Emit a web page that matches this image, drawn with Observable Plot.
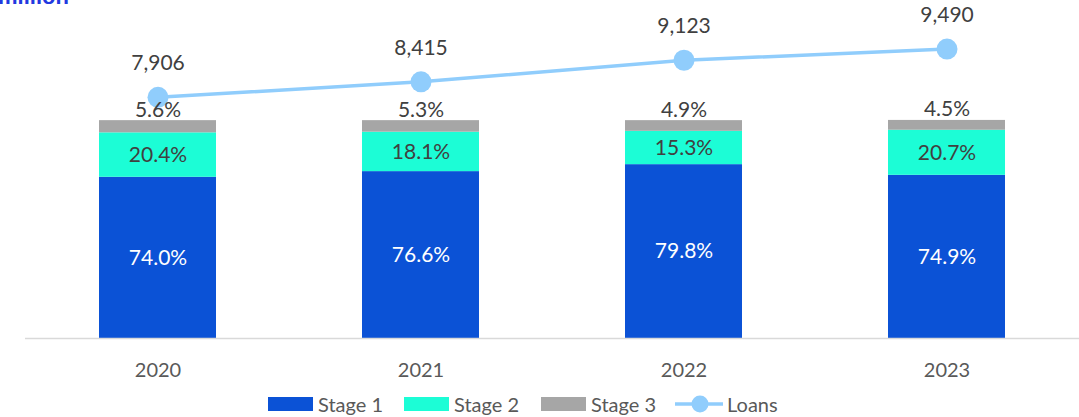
<!DOCTYPE html>
<html>
<head>
<meta charset="utf-8">
<script src="https://cdn.jsdelivr.net/npm/d3@7"></script>
<script src="https://cdn.jsdelivr.net/npm/@observablehq/plot@0.6"></script>
<style>
  html, body { margin: 0; padding: 0; background: #fff; }
  #wrap { position: relative; width: 1079px; height: 417px; overflow: hidden; font-family: Lato, "Open Sans", sans-serif; }
  #unit { position: absolute; top: -14px; left: -2px; font: bold 22px "Liberation Sans", Arial, sans-serif; line-height: 22px; color: #2239e0; white-space: nowrap; }
  #chart { position: absolute; top: 0; left: 0; }
  #legend { position: absolute; top: 392px; left: 0; width: 1079px; height: 24px; font-size: 20px; color: #595959; }
  .sw { position: absolute; top: 5px; width: 45px; height: 14px; }
  .lab { position: absolute; top: 0; line-height: 24px; white-space: nowrap; }
</style>
</head>
<body>
<div id="wrap">
  <div id="unit">million</div>
  <div id="chart"></div>
  <div id="legend"></div>
</div>
<script>
// ---- data ----
const years = ["2020", "2021", "2022", "2023"];
const stages = ["Stage 1", "Stage 2", "Stage 3"];
const stage1 = [74.0, 76.6, 79.8, 74.9];
const stage2 = [20.4, 18.1, 15.3, 20.7];
const stage3 = [5.6, 5.3, 4.9, 4.5];
const loans = [7906, 8415, 9123, 9490];
const colors = ["#0b52d6", "#1cfdd6", "#a6a6a6"];
const lineColor = "#90cdfc";
// axis extents (primary % axis and secondary loans axis)
const pctMax = 140;
const loansMax = 10000;

const rows = [];
years.forEach((yr, i) => {
  rows.push({year: yr, stage: stages[0], value: stage1[i]});
  rows.push({year: yr, stage: stages[1], value: stage2[i]});
  rows.push({year: yr, stage: stages[2], value: stage3[i]});
});
const loanRows = years.map((yr, i) => ({year: yr, loans: loans[i], y: loans[i] / loansMax * pctMax}));

const fmtPct = v => v.toFixed(1) + "%";
const fmtNum = d3.format(",");
const font = "Lato, 'Open Sans', sans-serif";
const fs = 21;

const plot = Plot.plot({
  width: 1079,
  height: 390,
  marginLeft: 25,
  marginRight: 0,
  marginTop: 0,
  marginBottom: 52,
  style: {fontFamily: font, background: "transparent"},
  x: {type: "band", domain: years, padding: 0, label: null},
  y: {domain: [0, pctMax], range: [338, 33], axis: null},
  color: {domain: stages, range: colors},
  marks: [
    Plot.barY(rows, {x: "year", y: "value", fill: "stage", z: "stage", insetLeft: 73, insetRight: 73}),
    Plot.ruleY([0], {stroke: "#d9d9d9", strokeWidth: 1.5}),
    Plot.axisX({tickSize: 0, tickPadding: 24, fontSize: 20, fill: "#595959", label: null}),
    Plot.text(rows, Plot.stackY({x: "year", y: "value", z: "stage",
      text: d => d.stage === stages[0] ? fmtPct(d.value) : "", fill: "white", fontSize: fs})),
    Plot.text(rows, Plot.stackY({x: "year", y: "value", z: "stage",
      text: d => d.stage === stages[1] ? fmtPct(d.value) : "", fill: "#404040", fontSize: fs})),
    Plot.line(loanRows, {x: "year", y: "y", stroke: lineColor, strokeWidth: 3.5}),
    Plot.dot(loanRows, {x: "year", y: "y", r: 10.5, fill: lineColor, stroke: null}),
    Plot.text(loanRows, {x: "year", y: "y", text: d => fmtNum(d.loans), dy: -34, fill: "#404040", fontSize: fs}),
    Plot.text(rows, Plot.stackY2({x: "year", y: "value", z: "stage",
      text: d => d.stage === stages[2] ? fmtPct(d.value) : "", fill: "#404040", fontSize: fs,
      lineAnchor: "bottom", dy: -4}))
  ]
});
document.getElementById("chart").appendChild(plot);

// legend (positions matched to reference)
const legend = document.getElementById("legend");
const swX = [268, 404, 541];
stages.forEach((s, i) => {
  legend.insertAdjacentHTML("beforeend",
    `<div class="sw" style="left:${swX[i]}px;background:${colors[i]}"></div><span class="lab" style="left:${swX[i] + 50}px">${s}</span>`);
});
legend.insertAdjacentHTML("beforeend",
  `<svg style="position:absolute;left:674px;top:2px" width="50" height="20"><line x1="1" x2="49" y1="10" y2="10" stroke="${lineColor}" stroke-width="3.5"/><circle cx="26" cy="10" r="8.5" fill="${lineColor}"/></svg><span class="lab" style="left:727px">Loans</span>`);
</script>
</body>
</html>
